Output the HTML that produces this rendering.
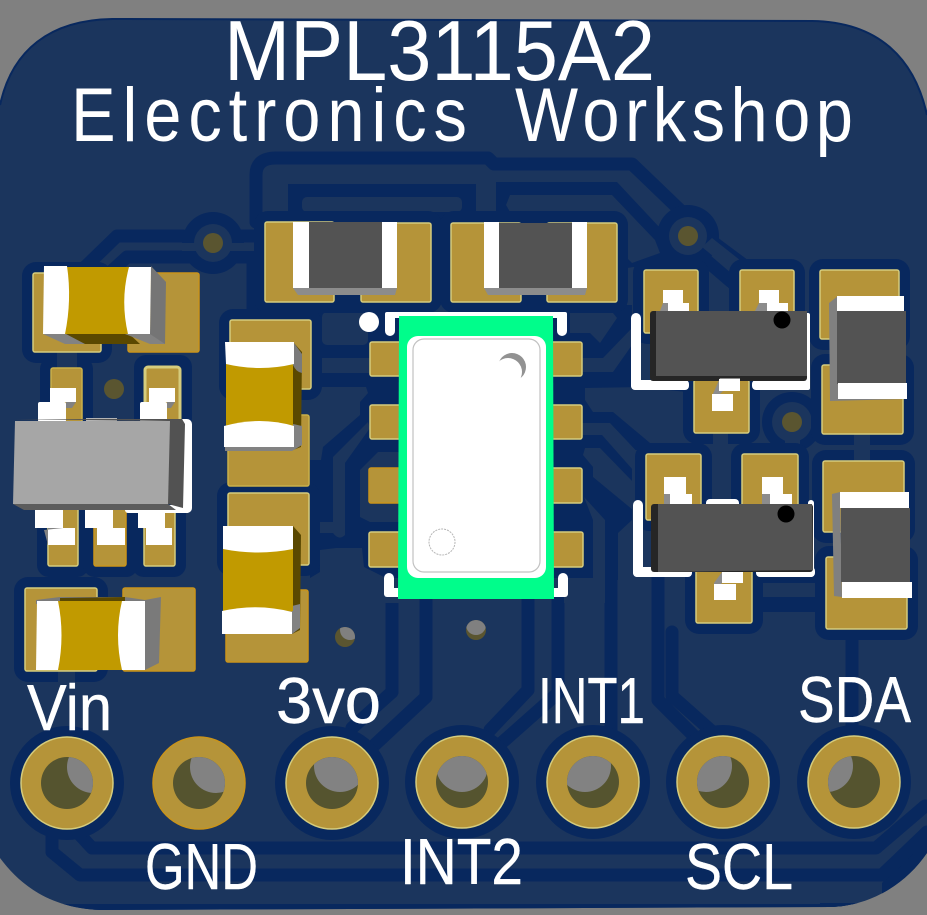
<!DOCTYPE html>
<html><head><meta charset="utf-8"><style>
html,body{margin:0;padding:0;background:#808080;width:927px;height:915px;overflow:hidden}
svg{display:block}
text{font-family:"Liberation Sans",sans-serif;fill:#fff}
.l{stroke:#fff;stroke-width:.4;stroke-linejoin:round}
</style></head><body>
<svg width="927" height="915" viewBox="0 0 927 915" xmlns="http://www.w3.org/2000/svg">
<defs>
<clipPath id="brd"><path d="M0 105C12 50 50 20 112 19L812 21C880 22 915 60 927 115L927 853C905 885 870 906 830 907L100 910C50 908 20 885 0 858Z"/></clipPath>
<clipPath id="hVin"><circle cx="67" cy="783" r="26"/></clipPath>
<clipPath id="hGnd"><circle cx="199" cy="783" r="26"/></clipPath>
<clipPath id="h3v"><circle cx="332" cy="783" r="26"/></clipPath>
<clipPath id="hI2"><circle cx="462" cy="782" r="26"/></clipPath>
<clipPath id="hI1"><circle cx="593" cy="782" r="26"/></clipPath>
<clipPath id="hSc"><circle cx="723" cy="782" r="26"/></clipPath>
<clipPath id="hSd"><circle cx="854" cy="782" r="26"/></clipPath>
<clipPath id="v1"><circle cx="345" cy="637" r="10"/></clipPath>
<clipPath id="v2"><circle cx="476" cy="630" r="10"/></clipPath>
</defs>
<rect width="927" height="915" fill="#808080"/>
<path d="M0 105C12 50 50 20 112 19L812 21C880 22 915 60 927 115L927 853C905 885 870 906 830 907L100 910C50 908 20 885 0 858Z" fill="#1b355d"/>
<path d="M0 105C12 50 50 20 112 19L812 21C880 22 915 60 927 115" fill="none" stroke="#08285e" stroke-width="2"/>

<g clip-path="url(#brd)">
<path d="M882 883L927 835V915H820V903H882Z" fill="#08285e"/>
<rect x="60" y="904" width="800" height="8" fill="#08285e"/>
<g fill="none" stroke="#08285e" stroke-width="13" stroke-linejoin="round" stroke-linecap="round">
<path d="M256 222V175Q256 158 276 158H488L494 164H632L682 212"/>
<path d="M183 236H117L84 268"/>
<path d="M197 257H127L104 278"/>
<path d="M232 236H255M232 257H253V320"/>
<path d="M710 240L745 266"/>
<path d="M700 255L735 285"/>
<path d="M52 832V852L80 875H882L927 832"/>
<path d="M80 835L92 848H876L925 806"/>
<path d="M392 600V692L352 728"/>
<path d="M426 600V697L367 752"/>
<path d="M528 600V690L490 730"/>
<path d="M558 600V693L497 747"/>
<path d="M611 570V735"/>
<path d="M658 575V700L700 742"/>
<path d="M672 632V696L716 735"/>
<path d="M852 640V733"/>
</g>
<g fill="#08285e">
<rect x="288" y="184" width="188" height="40"/>
<path d="M496 182H617L660 228L668 262L627 268L620 222H496Z"/>
<rect x="310" y="305" width="95" height="273"/>
<rect x="548" y="305" width="84" height="273"/>
<rect x="605" y="570" width="13" height="10"/>
<rect x="632" y="385" width="55" height="65"/>
<rect x="740" y="570" width="90" height="42"/>
</g>
<g fill="#1b355d">
<rect x="302" y="197" width="160" height="15" rx="5"/>
<path d="M510 195H612L655 240L660 253L632 263L627 258V235L608 212H510L506 205Z"/>
<rect x="322" y="312" width="46" height="33" rx="5"/>
<rect x="310" y="358" width="60" height="15"/>
<path d="M322 387H366L368 393L360 402V415L323 447L321 460H310V400Z"/>
<path d="M333 457L368 422L370 428L345 463V535Q339 541 333 533H310V522H333Z"/>
<path d="M360 470L378 452H400V522H370L360 517Z"/>
<path d="M320 550L336 548H362L364 567L384 577V600H310V578L320 572Z"/>
<rect x="310" y="578" width="89" height="25"/>
<path d="M570 313H613L617 318L600 343L590 333H570Z"/>
<path d="M582 358H603L632 328V345L613 372H582Z"/>
<path d="M585 388L640 387L687 392V443H650L613 412H593L585 400Z"/>
<path d="M582 423H610L645 460V470H633L602 435H582Z"/>
<path d="M585 448H600L633 482V510L593 477V467L583 455Z"/>
<path d="M584 497L605 520V603H564V578H593V520Z"/>
<path d="M618 533L632 520V603H618Z"/>
<rect x="750" y="583" width="77" height="14"/>
<rect x="855" y="430" width="15" height="35"/>
<rect x="713" y="430" width="15" height="75"/>
<rect x="710" y="287" width="18" height="26"/>
</g>
</g>

<circle cx="213" cy="243" r="31" fill="#08285e"/><circle cx="213" cy="243" r="19" fill="#1b355d"/>
<rect x="182" y="243" width="14" height="8" fill="#1b355d"/><rect x="230" y="243" width="24" height="8" fill="#1b355d"/>
<circle cx="688" cy="236" r="31" fill="#08285e"/><circle cx="688" cy="236" r="19" fill="#1b355d"/>
<path d="M702 247L712 238L750 268L737 276Z" fill="#1b355d"/>
<circle cx="792" cy="422" r="30" fill="#08285e"/><circle cx="792" cy="422" r="20" fill="#1b355d"/>
<rect x="785" y="436" width="15" height="30" fill="#1b355d"/>

<g fill="#08285e">
<rect x="22" y="262" width="90" height="101" rx="14"/>
<rect x="219" y="309" width="103" height="91" rx="14"/>
<rect x="217" y="482" width="103" height="94" rx="14"/>
<rect x="254" y="211" width="188" height="102" rx="14"/>
<rect x="440" y="211" width="188" height="102" rx="14"/>
<rect x="633" y="259" width="76" height="85" rx="14"/>
<rect x="729" y="259" width="76" height="72" rx="14"/>
<rect x="683" y="369" width="77" height="75" rx="14"/>
<rect x="809" y="259" width="101" height="91" rx="14"/>
<rect x="811" y="354" width="103" height="91" rx="14"/>
<rect x="635" y="443" width="77" height="88" rx="14"/>
<rect x="731" y="443" width="78" height="72" rx="14"/>
<rect x="685" y="559" width="78" height="75" rx="14"/>
<rect x="812" y="450" width="103" height="93" rx="14"/>
<rect x="815" y="546" width="103" height="94" rx="14"/>
<rect x="40" y="357" width="53" height="75" rx="12"/>
<rect x="134" y="355" width="58" height="75" rx="12"/>
<rect x="37" y="495" width="52" height="82" rx="12"/>
<rect x="83" y="495" width="55" height="82" rx="12"/>
<rect x="132" y="495" width="54" height="82" rx="12"/>
<rect x="14" y="577" width="94" height="105" rx="14"/>
<circle cx="67" cy="783" r="57"/><circle cx="332" cy="783" r="57"/><circle cx="462" cy="782" r="57"/><circle cx="593" cy="782" r="57"/><circle cx="723" cy="782" r="57"/><circle cx="854" cy="782" r="57"/>
</g>
<rect x="57" y="350" width="20" height="18" fill="#1b355d"/>
<rect x="58" y="668" width="17" height="50" fill="#1b355d"/>
<rect x="854" y="434" width="16" height="27" fill="#1b355d"/>
<rect x="713" y="432" width="15" height="72" fill="#1b355d"/>

<g fill="#b59439" stroke="#d5cc7d" stroke-width="1.5">
<rect x="33" y="273" width="68" height="79" rx="2"/>
<rect x="128" y="273" width="71" height="79" rx="2" stroke="#c9941c"/>
<rect x="230" y="320" width="81" height="69" rx="2"/>
<rect x="228" y="415" width="81" height="71" rx="2" stroke="#c9b04a"/>
<rect x="228" y="493" width="81" height="72" rx="2"/>
<rect x="226" y="590" width="82" height="72" rx="2" stroke="#c9941c"/>
<rect x="25" y="588" width="72" height="83" rx="2"/>
<rect x="123" y="588" width="72" height="83" rx="2" stroke="#c9941c"/>
<rect x="51" y="368" width="31" height="56" rx="2" stroke="#c9b04a"/>
<rect x="145" y="367" width="35" height="55" rx="3" stroke-width="3"/>
<rect x="48" y="506" width="30" height="60" rx="2"/>
<rect x="94" y="506" width="32" height="60" rx="2" stroke="#c9941c"/>
<rect x="144" y="506" width="31" height="60" rx="2"/>
<rect x="265" y="222" width="69" height="80" rx="2"/>
<rect x="361" y="223" width="70" height="79" rx="2"/>
<rect x="451" y="223" width="70" height="79" rx="2"/>
<rect x="547" y="223" width="70" height="79" rx="2"/>
<rect x="370" y="342" width="35" height="34" rx="2"/>
<rect x="370" y="405" width="35" height="34" rx="2"/>
<rect x="369" y="468" width="35" height="35" rx="2" stroke="#c9941c"/>
<rect x="369" y="532" width="35" height="35" rx="2"/>
<rect x="548" y="342" width="34" height="34" rx="2"/>
<rect x="548" y="405" width="34" height="34" rx="2"/>
<rect x="548" y="468" width="34" height="35" rx="2"/>
<rect x="548" y="532" width="35" height="35" rx="2"/>
<rect x="644" y="270" width="54" height="63" rx="2"/>
<rect x="740" y="270" width="54" height="55" rx="2"/>
<rect x="694" y="380" width="55" height="53" rx="2"/>
<rect x="820" y="270" width="79" height="69" rx="2"/>
<rect x="822" y="365" width="81" height="69" rx="2"/>
<rect x="646" y="454" width="55" height="66" rx="2"/>
<rect x="742" y="454" width="56" height="55" rx="2"/>
<rect x="696" y="570" width="56" height="53" rx="2"/>
<rect x="823" y="461" width="81" height="71" rx="2"/>
<rect x="826" y="557" width="81" height="72" rx="2"/>
</g>

<g fill="#5a5530"><circle cx="213" cy="243" r="10"/><circle cx="688" cy="236" r="10"/><circle cx="792" cy="422" r="10"/><circle cx="114" cy="389" r="10"/><circle cx="345" cy="637" r="10"/><circle cx="476" cy="630" r="10"/></g>
<circle cx="350" cy="630" r="10" fill="#808080" clip-path="url(#v1)"/>
<circle cx="476" cy="625" r="10" fill="#808080" clip-path="url(#v2)"/>

<g fill="#b59439" stroke="#d5cc7d" stroke-width="1.5">
<circle cx="67" cy="783" r="46"/><circle cx="199" cy="783" r="46" stroke="#c9941c"/><circle cx="332" cy="783" r="46"/><circle cx="462" cy="782" r="46"/><circle cx="593" cy="782" r="46"/><circle cx="723" cy="782" r="46"/><circle cx="854" cy="782" r="46"/>
</g>
<g fill="#55542f"><circle cx="67" cy="783" r="26"/><circle cx="199" cy="783" r="26"/><circle cx="332" cy="783" r="26"/><circle cx="462" cy="782" r="26"/><circle cx="593" cy="782" r="26"/><circle cx="723" cy="782" r="26"/><circle cx="854" cy="782" r="26"/></g>
<g fill="#828282">
<circle cx="93" cy="767" r="26" clip-path="url(#hVin)"/>
<circle cx="216" cy="767" r="26" clip-path="url(#hGnd)"/>
<circle cx="340" cy="766" r="26" clip-path="url(#h3v)"/>
<circle cx="462" cy="766" r="26" clip-path="url(#hI2)"/>
<circle cx="585" cy="766" r="26" clip-path="url(#hI1)"/>
<circle cx="706" cy="766" r="26" clip-path="url(#hSc)"/>
<circle cx="827" cy="766" r="26" clip-path="url(#hSd)"/>
</g>

<path d="M43 334L65 344H85L70 320Z" fill="#828282"/>
<path d="M66 334L85 344H140L125 330Z" fill="#5a4800"/>
<path d="M125 334L150 344H165L150 330Z" fill="#828282"/>
<path d="M151 266L166 282L165 344L150 334Z" fill="#757575"/>
<rect x="60" y="267" width="72" height="67" fill="#c19a00"/>
<path d="M44 266H67Q72 300 65 334H43Z" fill="#fff"/>
<path d="M129 267H151L150 334H128Q120 300 129 267Z" fill="#fff"/>

<path d="M293 342L302 352L301 447L293 450Z" fill="#5a4800"/>
<path d="M294 343L302 354V373Q296 372 293 365Z" fill="#7a7a7a"/>
<path d="M293 424L302 426V445L292 451H225V447H293Z" fill="#828282"/>
<rect x="226" y="360" width="67" height="66" fill="#c19a00"/>
<path d="M225 342H294V364Q260 372 226 364Z" fill="#fff"/>
<path d="M224 426Q260 416 294 426V447H224Z" fill="#fff"/>

<path d="M293 526L301 535L300 630L292 634Z" fill="#5a4800"/>
<path d="M292 606L300 604V628L292 634Z" fill="#828282"/>
<rect x="223" y="545" width="70" height="66" fill="#c19a00"/>
<path d="M223 526H293V549Q258 556 223 549Z" fill="#fff"/>
<path d="M222 611Q258 603 292 612V634H222Z" fill="#fff"/>

<path d="M145 600L161 597L159 663L145 670Z" fill="#7a7a7a"/>
<path d="M36 600L60 597H125L145 600V604H36Z" fill="#7a7a7a"/>
<path d="M60 598L125 597V602H60Z" fill="#5a4800"/>
<rect x="58" y="601" width="66" height="69" fill="#c19a00"/>
<path d="M37 601H58Q65 635 58 670H36Z" fill="#fff"/>
<path d="M122 601H145V670H122Q114 635 122 601Z" fill="#fff"/>

<rect x="178" y="419" width="14" height="94" rx="5" fill="#fff"/>
<rect x="125" y="505" width="65" height="8" rx="3" fill="#fff"/>
<rect x="86" y="418" width="31" height="4" fill="#b5b5b5"/>
<g fill="#fff">
<rect x="50" y="388" width="26" height="14"/><rect x="38" y="402" width="28" height="20" rx="2"/>
<rect x="149" y="388" width="26" height="14"/><rect x="140" y="402" width="27" height="20" rx="2"/>
<rect x="35" y="508" width="28" height="20"/><rect x="48" y="528" width="27" height="17"/>
<rect x="85" y="508" width="28" height="20"/><rect x="97" y="528" width="28" height="17"/>
<rect x="138" y="508" width="27" height="20"/><rect x="146" y="528" width="26" height="17"/>
</g>
<path d="M66 402L76 402L72 408H66Z" fill="#828282"/><path d="M167 402L175 402L171 408H167Z" fill="#828282"/>
<path d="M63 528H48V545L44 530Z" fill="#828282"/>
<path d="M15 419H182L185 424L183 508L168 504V421Z" fill="#525252"/>
<path d="M13 504H168L176 510H24Z" fill="#5c5c5c"/>
<path d="M15 421H170L168 504H13Z" fill="#a6a6a6"/>

<path d="M293 288H397L395 295H298Z" fill="#8c8c8c"/>
<path d="M484 288H587L585 295H488Z" fill="#8c8c8c"/>
<rect x="308" y="222" width="75" height="66" fill="#535353"/>
<rect x="498" y="223" width="75" height="65" fill="#535353"/>
<g fill="#fff">
<rect x="293" y="222" width="16" height="66"/><rect x="382" y="222" width="15" height="66"/>
<rect x="484" y="222" width="15" height="66"/><rect x="572" y="222" width="15" height="66"/>
</g>

<rect x="385" y="312" width="182" height="6" rx="2" fill="#fff"/>
<rect x="385" y="312" width="10" height="24" rx="5" fill="#fff"/>
<rect x="557" y="312" width="10" height="24" rx="5" fill="#fff"/>
<rect x="384" y="573" width="10" height="24" rx="5" fill="#fff"/>
<rect x="558" y="573" width="10" height="24" rx="5" fill="#fff"/>
<rect x="384" y="588" width="20" height="9" rx="3" fill="#fff"/>
<rect x="548" y="588" width="20" height="9" rx="3" fill="#fff"/>
<circle cx="369" cy="322" r="10" fill="#fff"/>
<path d="M399 316H553L554 599H398Z" fill="#00fd8b"/>
<rect x="407" y="336" width="139" height="242" rx="11" fill="#fff"/>
<rect x="413" y="339" width="127" height="233" rx="11" fill="#fff" stroke="#c2c2c2" stroke-width="1.2"/>
<circle cx="512" cy="367" r="14" fill="#929292"/>
<circle cx="508" cy="372" r="14" fill="#fff"/>
<circle cx="442" cy="542" r="13" fill="#fff" stroke="#b5b5b5" stroke-width="1" stroke-dasharray="2 1"/>

<g fill="#fff">
<rect x="631" y="313" width="10" height="77" rx="5"/><rect x="631" y="380" width="58" height="10" rx="4"/>
<rect x="752" y="380" width="58" height="10" rx="4"/><rect x="805" y="313" width="5" height="77" rx="2"/>
<rect x="663" y="290" width="20" height="14"/><rect x="668" y="303" width="21" height="9"/>
<rect x="759" y="290" width="20" height="14"/><rect x="767" y="303" width="21" height="9"/>
</g>
<path d="M663 303H668V311H660Z" fill="#8c8c8c"/><path d="M759 303H767V311H755Z" fill="#8c8c8c"/>
<rect x="650" y="311" width="157" height="70" rx="3" fill="#262626"/>
<path d="M656 311H807L807 376L656 376Z" fill="#535353"/>
<path d="M720 378H740V390H724L718 396V411H712V396Z" fill="#8c8c8c"/>
<rect x="719" y="379" width="21" height="12" fill="#fff"/>
<rect x="712" y="394" width="21" height="17" fill="#fff"/>
<circle cx="782" cy="320" r="8.5" fill="#000"/>

<g fill="#fff">
<rect x="633" y="500" width="10" height="77" rx="5"/><rect x="633" y="567" width="59" height="10" rx="4"/>
<rect x="756" y="567" width="59" height="10" rx="4"/><rect x="808" y="500" width="6" height="77" rx="3"/>
<rect x="706" y="499" width="33" height="10" rx="4"/>
<rect x="664" y="477" width="22" height="17"/><rect x="670" y="494" width="22" height="10"/>
<rect x="762" y="477" width="21" height="17"/><rect x="770" y="494" width="22" height="10"/>
</g>
<path d="M664 494H670V504H664Z" fill="#8c8c8c"/><path d="M762 494H770V504H762Z" fill="#8c8c8c"/>
<rect x="651" y="504" width="162" height="68" rx="3" fill="#262626"/>
<path d="M658 504H812L813 570L658 572Z" fill="#535353"/>
<path d="M722 572H743V583H722L714 590V583Z" fill="#8c8c8c"/>
<rect x="722" y="572" width="21" height="11" fill="#fff"/>
<rect x="714" y="584" width="22" height="16" fill="#fff"/>
<circle cx="786" cy="514" r="8.5" fill="#000"/>

<path d="M838 296L829 303L830 401L906 399V396L838 396Z" fill="#808080"/>
<rect x="837" y="311" width="69" height="73" fill="#535353"/>
<rect x="837" y="296" width="67" height="15" fill="#fff"/>
<rect x="838" y="383" width="69" height="16" fill="#fff"/>
<path d="M840 492L832 494L834 596L842 597Z" fill="#808080"/>
<rect x="841" y="508" width="69" height="74" fill="#535353"/>
<rect x="840" y="492" width="69" height="16" fill="#fff"/>
<rect x="842" y="582" width="70" height="16" fill="#fff"/>

<text x="224" y="80" font-size="85" textLength="431" lengthAdjust="spacingAndGlyphs">MPL3115A2</text>
<g transform="translate(71 141) scale(.88 1)"><text x="0" y="0" font-size="76" textLength="450">Electronics</text></g>
<g transform="translate(515 141) scale(.88 1)"><text x="0" y="0" font-size="76" textLength="384">Workshop</text></g>
<text class="l" x="27" y="730" font-size="65" textLength="85" lengthAdjust="spacingAndGlyphs">Vin</text>
<text class="l" x="276" y="723" font-size="65" textLength="105" lengthAdjust="spacingAndGlyphs">3vo</text>
<text class="l" x="145" y="889" font-size="65" textLength="113" lengthAdjust="spacingAndGlyphs">GND</text>
<text class="l" x="538" y="723" font-size="65" textLength="107" lengthAdjust="spacingAndGlyphs">INT1</text>
<text class="l" x="798" y="722" font-size="65" textLength="113" lengthAdjust="spacingAndGlyphs">SDA</text>
<text class="l" x="400" y="884" font-size="65" textLength="123" lengthAdjust="spacingAndGlyphs">INT2</text>
<text class="l" x="685" y="889" font-size="65" textLength="108" lengthAdjust="spacingAndGlyphs">SCL</text>
</svg>
</body></html>
